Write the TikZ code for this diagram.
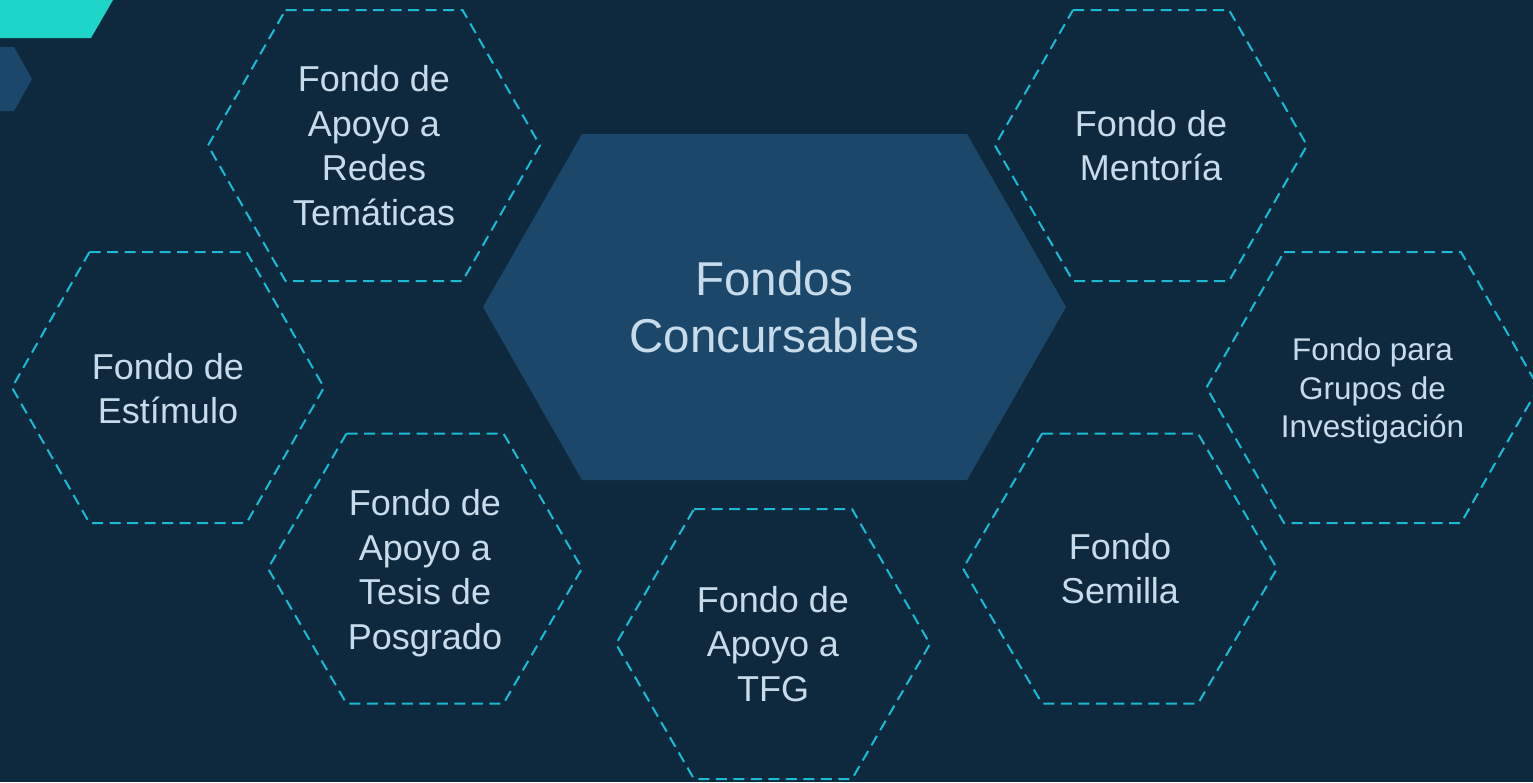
\documentclass[tikz,border=0pt]{standalone}
\usepackage{fontspec}
\setmainfont{Liberation Sans}
\definecolor{bg}{HTML}{0E293D}
\definecolor{hexfill}{HTML}{1B486A}
\definecolor{dashc}{HTML}{19BBD4}
\definecolor{txt}{HTML}{C8DBEB}
\definecolor{tealc}{HTML}{1DD5C8}
\tikzset{
  hexline/.style={draw=dashc, line width=2pt, dash pattern=on 11pt off 6.5pt, line join=round},
  lbl/.style={text=txt, align=center, font=\fontsize{36}{44.5}\selectfont, inner sep=0pt},
  lblsmall/.style={lbl, font=\fontsize{31.4}{38.5}\selectfont},
  lblbig/.style={lbl, font=\fontsize{47.5}{57}\selectfont},
}
% #1 centre name, #2 half width, #3 half top edge, #4 half height, #5 style
\newcommand\hexat[5]{%
  \path[#5] ([shift={(-#3,-#4)}]#1) -- ([shift={(#3,-#4)}]#1) -- ([shift={(#2,0)}]#1)
    -- ([shift={(#3,#4)}]#1) -- ([shift={(-#3,#4)}]#1) -- ([shift={(-#2,0)}]#1) -- cycle;}
\begin{document}
\begin{tikzpicture}[x=1pt,y=-1pt]
  \useasboundingbox (0,0) rectangle (1533,782);
  \fill[bg] (0,0) rectangle (1533,782);
  % decorations top left
  \fill[tealc] (0,0) -- (113,0) -- (91,38) -- (0,38) -- cycle;
  \fill[hexfill] (0,47) -- (14,47) -- (32,79) -- (14,111) -- (0,111) -- cycle;
  % centres
  \coordinate (cc) at (774.5,307);
  \coordinate (credes) at (374,145.5);
  \coordinate (cmentoria) at (1151,145.5);
  \coordinate (cestimulo) at (168,387.5);
  \coordinate (cgrupos) at (1372.5,387.5);
  \coordinate (ctesis) at (425,568.5);
  \coordinate (ctfg) at (773,644);
  \coordinate (csemilla) at (1120,568.5);
  % shapes
  \hexat{cc}{291.5}{192.5}{173}{fill=hexfill}
  \hexat{credes}{166}{88.5}{135.5}{hexline}
  \hexat{cgrupos}{166}{88.5}{135.5}{hexline}
  \hexat{cmentoria}{156}{78}{135.5}{hexline}
  \hexat{cestimulo}{156}{78.5}{135.5}{hexline}
  \hexat{ctesis}{157}{78.5}{135}{hexline}
  \hexat{ctfg}{157}{79}{135}{hexline}
  \hexat{csemilla}{157}{78}{135}{hexline}
  % labels
  \node[lblbig] (central) at (cc) {Fondos\\Concursables};
  \node[lbl] (redes) at (credes) {Fondo de\\Apoyo a\\Redes\\Temáticas};
  \node[lbl] (mentoria) at (cmentoria) {Fondo de\\Mentoría};
  \node[lbl, yshift=-1pt] (estimulo) at (cestimulo) {Fondo de\\Estímulo};
  \node[lblsmall, yshift=-3.5pt] (grupos) at (cgrupos) {Fondo para\\Grupos de\\Investigación};
  \node[lbl, yshift=-4.7pt] (tesis) at (ctesis) {Fondo de\\Apoyo a\\Tesis de\\Posgrado};
  \node[lbl] (tfg) at (ctfg) {Fondo de\\Apoyo a\\TFG};
  \node[lbl] (semilla) at (csemilla) {Fondo\\Semilla};
\end{tikzpicture}
\end{document}
